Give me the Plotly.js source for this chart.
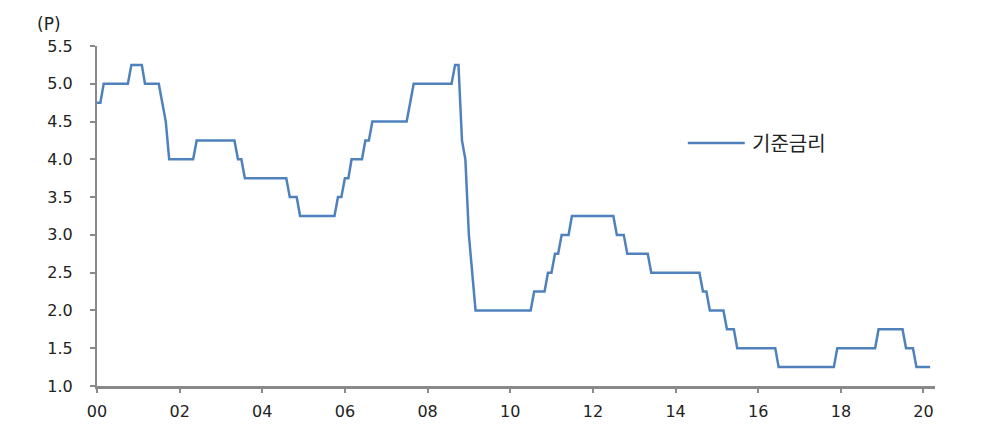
<!DOCTYPE html>
<html>
<head>
<meta charset="utf-8">
<script src="https://cdn.plot.ly/plotly-3.0.1.min.js"></script>
<style>html,body{margin:0;padding:0;background:#fff;}#chart{width:1000px;height:439px;}</style>
</head>
<body>
<div id="chart"></div>
<script>
// Monthly (end of month) base rate, Dec 1999 .. Feb 2020
const seriesName = '기준금리';
const startYear = 1999, startMonth = 12;
const rate1999 = [4.75];
const rate2000 = [4.75,5,5,5,5,5,5,5,5,5.25,5.25,5.25];
const rate2001 = [5.25,5,5,5,5,5,4.75,4.5,4,4,4,4];
const rate2002 = [4,4,4,4,4.25,4.25,4.25,4.25,4.25,4.25,4.25,4.25];
const rate2003 = [4.25,4.25,4.25,4.25,4,4,3.75,3.75,3.75,3.75,3.75,3.75];
const rate2004 = [3.75,3.75,3.75,3.75,3.75,3.75,3.75,3.5,3.5,3.5,3.25,3.25];
const rate2005 = [3.25,3.25,3.25,3.25,3.25,3.25,3.25,3.25,3.25,3.5,3.5,3.75];
const rate2006 = [3.75,4,4,4,4,4.25,4.25,4.5,4.5,4.5,4.5,4.5];
const rate2007 = [4.5,4.5,4.5,4.5,4.5,4.5,4.75,5,5,5,5,5];
const rate2008 = [5,5,5,5,5,5,5,5.25,5.25,4.25,4,3];
const rate2009 = [2.5,2,2,2,2,2,2,2,2,2,2,2];
const rate2010 = [2,2,2,2,2,2,2.25,2.25,2.25,2.25,2.5,2.5];
const rate2011 = [2.75,2.75,3,3,3,3.25,3.25,3.25,3.25,3.25,3.25,3.25];
const rate2012 = [3.25,3.25,3.25,3.25,3.25,3.25,3,3,3,2.75,2.75,2.75];
const rate2013 = [2.75,2.75,2.75,2.75,2.5,2.5,2.5,2.5,2.5,2.5,2.5,2.5];
const rate2014 = [2.5,2.5,2.5,2.5,2.5,2.5,2.5,2.25,2.25,2,2,2];
const rate2015 = [2,2,1.75,1.75,1.75,1.5,1.5,1.5,1.5,1.5,1.5,1.5];
const rate2016 = [1.5,1.5,1.5,1.5,1.5,1.25,1.25,1.25,1.25,1.25,1.25,1.25];
const rate2017 = [1.25,1.25,1.25,1.25,1.25,1.25,1.25,1.25,1.25,1.25,1.5,1.5];
const rate2018 = [1.5,1.5,1.5,1.5,1.5,1.5,1.5,1.5,1.5,1.5,1.75,1.75];
const rate2019 = [1.75,1.75,1.75,1.75,1.75,1.75,1.5,1.5,1.5,1.25,1.25,1.25];
const rate2020 = [1.25,1.25];

const xTickVals = ['2000-01-01','2002-01-01','2004-01-01','2006-01-01','2008-01-01','2010-01-01','2012-01-01','2014-01-01','2016-01-01','2018-01-01','2020-01-01'];
const xTickText = ['00','02','04','06','08','10','12','14','16','18','20'];
const yTickVals = [1.0,1.5,2.0,2.5,3.0,3.5,4.0,4.5,5.0,5.5];
const yTickText = ['1.0','1.5','2.0','2.5','3.0','3.5','4.0','4.5','5.0','5.5'];

const values = [].concat(rate1999,rate2000,rate2001,rate2002,rate2003,rate2004,rate2005,rate2006,rate2007,rate2008,rate2009,rate2010,rate2011,rate2012,rate2013,rate2014,rate2015,rate2016,rate2017,rate2018,rate2019,rate2020);
const dates = [];
for (let i = 0; i < values.length; i++) {
  const y = startYear + Math.floor((startMonth - 1 + i) / 12);
  const m = (startMonth - 1 + i) % 12; // 0-based
  const d = new Date(Date.UTC(y, m + 1, 0));
  dates.push(d.toISOString().slice(0,10));
}

const NUMFONT = 'DejaVu Sans, Liberation Sans, sans-serif';
const KRFONT = 'Noto Sans CJK KR, sans-serif';
const LINECOLOR = 'rgb(79,129,189)';
const trace = {
  x: dates, y: values, type: 'scatter', mode: 'lines', name: seriesName,
  line: {color: LINECOLOR, width: 2.5, shape: 'linear'}
};
// legend drawn manually (longer sample line as in the reference)
const legX0 = 0.705, legX1 = 0.773, legY = 0.715;
const layout = {
  width: 1000, height: 439,
  margin: {l: 97, r: 65, t: 46, b: 53},
  paper_bgcolor: '#fff', plot_bgcolor: '#fff',
  showlegend: false,
  xaxis: {
    type: 'date', range: ['2000-01-01', '2020-04-12'],
    tickmode: 'array', tickvals: xTickVals, ticktext: xTickText,
    showgrid: false, zeroline: false,
    showline: true, linecolor: '#898989', linewidth: 3,
    ticks: 'outside', ticklen: 4, tickwidth: 2, tickcolor: '#898989',
    ticklabelstandoff: 5,
    tickfont: {family: NUMFONT, size: 16, color: '#222'}
  },
  yaxis: {
    range: [1.0, 5.5], tickmode: 'array', tickvals: yTickVals, ticktext: yTickText,
    showgrid: false, zeroline: false,
    showline: true, linecolor: '#898989', linewidth: 2,
    ticks: 'outside', ticklen: 5, tickwidth: 2, tickcolor: '#898989',
    ticklabelstandoff: 14,
    tickfont: {family: NUMFONT, size: 16, color: '#222'}
  },
  shapes: [{
    type: 'line', xref: 'paper', yref: 'paper', x0: legX0, x1: legX1, y0: legY, y1: legY,
    line: {color: LINECOLOR, width: 2.5}
  }],
  annotations: [{
    text: '(P)', xref: 'paper', yref: 'paper', x: -0.074, y: 1.065,
    xanchor: 'left', yanchor: 'middle', showarrow: false,
    font: {family: NUMFONT, size: 17, color: '#222'}
  }, {
    text: seriesName, xref: 'paper', yref: 'paper', x: legX1 + 0.006, y: legY,
    xanchor: 'left', yanchor: 'middle', showarrow: false,
    font: {family: KRFONT, size: 20, color: '#222'}
  }]
};
Plotly.newPlot('chart', [trace], layout, {displayModeBar: false, staticPlot: true});
</script>
</body>
</html>
